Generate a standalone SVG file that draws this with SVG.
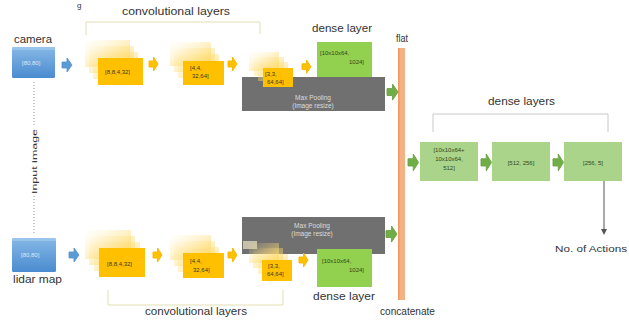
<svg xmlns="http://www.w3.org/2000/svg" xmlns:xlink="http://www.w3.org/1999/xlink" width="629" height="320" viewBox="0 0 629 320">
<defs>
<style>
.t{font-family:"Liberation Sans",Arial,sans-serif;fill:#333}
.lb{font-size:10px}
.sm{font-size:6px;fill:#3a3a2a}
.pt{font-size:6.5px;fill:#dcdcdc;text-anchor:middle}
.dt{font-size:6px;fill:#2f4a1a}
.conv{fill:#ffc000}
.ghost{fill:url(#gg)}
.pool{fill:#707070}
.dense{fill:#92d050}
.dense2{fill:#a9d48a}
.br{fill:none;stroke:#e2dfb2;stroke-width:1}
.brg{fill:none;stroke:#c8c8c8;stroke-width:1}
.blue{fill:url(#bg)}
.ya{fill:#ffc000;stroke:#f5b800;stroke-width:1;stroke-linejoin:round}
.ga{fill:#70ad47;stroke:#6aa443;stroke-width:0.8;stroke-linejoin:round}
.ba{fill:#5b9bd5;stroke:#5592cc;stroke-width:0.8;stroke-linejoin:round}
.dot{stroke:#9a9a9a;stroke-width:1;stroke-dasharray:1 2}
</style>
<linearGradient id="gg" x1="0" y1="0" x2="1" y2="1">
<stop offset="0" stop-color="#ffe699" stop-opacity="0"/>
<stop offset="1" stop-color="#ffd34d" stop-opacity="0.8"/>
</linearGradient>
<linearGradient id="bg" x1="0" y1="0" x2="0" y2="1">
<stop offset="0" stop-color="#86b8e6"/>
<stop offset="1" stop-color="#4a8bd0"/>
</linearGradient>
<path id="arr" d="M0,4 H5 V0 L10,7 L5,14 V10 H0 Z"/>
<marker id="ah" markerWidth="6" markerHeight="6" refX="3" refY="3" orient="auto" markerUnits="userSpaceOnUse">
<path d="M0,0 L6,3 L0,6 Z" fill="#555"/>
</marker>
</defs>
<rect width="629" height="320" fill="#ffffff"/>
<text class="t" x="77" y="8" font-size="8">g</text>

<!-- brackets and labels -->
<g id="top-bracket">
<path class="br" d="M86,35 V22 H260 V34"/>
<text class="t lb" x="122" y="15" textLength="108" lengthAdjust="spacingAndGlyphs">convolutional layers</text>
</g>
<g id="bottom-bracket">
<path class="br" d="M108,290 V305 H283 V290"/>
<text class="t lb" x="145" y="315" textLength="102" lengthAdjust="spacingAndGlyphs">convolutional layers</text>
</g>
<g id="dense-bracket">
<path class="brg" d="M433,132 V114 H608 V132"/>
<text class="t lb" x="488" y="105" textLength="67" lengthAdjust="spacingAndGlyphs">dense layers</text>
</g>

<!-- input nodes -->
<g id="camera">
<text class="t lb" x="14" y="43" textLength="38" lengthAdjust="spacingAndGlyphs">camera</text>
<rect class="blue" x="12" y="47" width="43" height="31" rx="1.5"/>
<rect x="12" y="47" width="43" height="3" fill="#a9cdee" opacity="0.6"/>
<text class="t sm" x="22" y="65" style="fill:#dbe9f7">[80,80]</text>
</g>
<g id="lidar">
<rect class="blue" x="12" y="238" width="44" height="34" rx="1.5"/>
<rect x="12" y="238" width="44" height="3" fill="#a9cdee" opacity="0.6"/>
<text class="t sm" x="21" y="257" style="fill:#dbe9f7">[80,80]</text>
<text class="t lb" x="13" y="283" textLength="49" lengthAdjust="spacingAndGlyphs">lidar map</text>
</g>
<g id="input-image">
<line class="dot" x1="34" y1="82" x2="34" y2="126"/>
<line class="dot" x1="34" y1="196" x2="34" y2="233"/>
<text class="t" font-size="8" transform="translate(37,194) rotate(-90)" textLength="65" lengthAdjust="spacingAndGlyphs">Input image</text>
</g>

<!-- pooling boxes -->
<g id="pool-top">
<rect class="pool" x="242" y="77" width="143" height="34"/>
<text class="t pt" x="313" y="100">Max Pooling</text>
<text class="t pt" x="313" y="108">(Image resize)</text>
</g>
<g id="pool-bottom">
<rect class="pool" x="242" y="217" width="143" height="37"/>
<text class="t pt" x="312" y="228">Max Pooling</text>
<text class="t pt" x="312" y="236">(Image resize)</text>
</g>

<!-- conv stacks top -->
<g id="conv1-top">
<rect class="ghost" x="85" y="40" width="45" height="27"/>
<rect class="ghost" x="89" y="46" width="45" height="27"/>
<rect class="ghost" x="93" y="52" width="45" height="27"/>
<rect class="conv" x="98" y="58" width="45" height="27"/>
<text class="t sm" x="105" y="74">[8,8,4,32]</text>
</g>
<g id="conv2-top">
<rect class="ghost" x="170" y="42" width="41" height="24"/>
<rect class="ghost" x="174" y="48" width="41" height="24"/>
<rect class="ghost" x="178" y="54" width="41" height="24"/>
<rect class="conv" x="183" y="61" width="41" height="24"/>
<text class="t sm" x="190" y="70">[4,4,</text>
<text class="t sm" x="192" y="78">32,64]</text>
</g>
<g id="conv3-top">
<rect class="ghost" x="249" y="52" width="30" height="19"/>
<rect class="ghost" x="254" y="57" width="30" height="19"/>
<rect class="ghost" x="258" y="62" width="30" height="19"/>
<rect class="conv" x="263" y="68" width="30" height="19"/>
<text class="t sm" x="265" y="76">[3,3,</text>
<text class="t sm" x="267" y="84">64,64]</text>
</g>
<g id="dense-top">
<text class="t lb" x="312" y="32" textLength="60" lengthAdjust="spacingAndGlyphs">dense layer</text>
<rect class="dense" x="317" y="42" width="55" height="35"/>
<text class="t dt" x="320" y="55">[10x10x64,</text>
<text class="t dt" x="364" y="64" text-anchor="end">1024]</text>
</g>

<!-- conv stacks bottom -->
<g id="conv1-bottom">
<rect class="ghost" x="85" y="230" width="46" height="29"/>
<rect class="ghost" x="89" y="236" width="46" height="29"/>
<rect class="ghost" x="94" y="242" width="46" height="29"/>
<rect class="conv" x="99" y="248" width="46" height="29"/>
<text class="t sm" x="107" y="266">[8,8,4,32]</text>
</g>
<g id="conv2-bottom">
<rect class="ghost" x="170" y="235" width="41" height="25"/>
<rect class="ghost" x="174" y="241" width="41" height="25"/>
<rect class="ghost" x="178" y="247" width="41" height="25"/>
<rect class="conv" x="183" y="253" width="41" height="25"/>
<text class="t sm" x="190" y="263">[4,4,</text>
<text class="t sm" x="193" y="272">32,64]</text>
</g>
<g id="conv3-bottom">
<rect x="243" y="241" width="14" height="8" fill="#fff4d0" opacity="0.6"/>
<rect class="ghost" x="249" y="243" width="30" height="20"/>
<rect class="ghost" x="253" y="248" width="30" height="20"/>
<rect class="ghost" x="258" y="254" width="30" height="20"/>
<rect class="conv" x="262" y="260" width="30" height="21"/>
<text class="t sm" x="268" y="268">[3,3,</text>
<text class="t sm" x="267" y="276">64,64]</text>
</g>
<g id="dense-bottom">
<rect class="dense" x="317" y="249" width="55" height="38"/>
<text class="t dt" x="322" y="263">[10x10x64,</text>
<text class="t dt" x="364" y="272" text-anchor="end">1024]</text>
<text class="t lb" x="313" y="300" textLength="62" lengthAdjust="spacingAndGlyphs">dense layer</text>
</g>

<!-- flat / concatenate -->
<g id="flat">
<text class="t lb" x="396" y="42" textLength="12" lengthAdjust="spacingAndGlyphs">flat</text>
<rect x="398" y="48" width="7" height="252" fill="#f4b183"/>
<rect x="398" y="48" width="1.5" height="252" fill="#ed9a64"/>
<text class="t lb" x="380" y="315" textLength="55" lengthAdjust="spacingAndGlyphs">concatenate</text>
</g>

<!-- right dense layers -->
<g id="dense1">
<rect class="dense2" x="420" y="142" width="58" height="39"/>
<text class="t dt" x="449" y="152" text-anchor="middle">[10x10x64+</text>
<text class="t dt" x="449" y="161" text-anchor="middle">10x10x64,</text>
<text class="t dt" x="449" y="170" text-anchor="middle">512]</text>
</g>
<g id="dense2">
<rect class="dense2" x="492" y="142" width="58" height="39"/>
<text class="t dt" x="521" y="165" text-anchor="middle">[512, 256]</text>
</g>
<g id="dense3">
<rect class="dense2" x="564" y="142" width="58" height="39"/>
<text class="t dt" x="593" y="165" text-anchor="middle">[256, 5]</text>
</g>
<g id="actions">
<text class="t" font-size="9" x="555" y="252" textLength="72" lengthAdjust="spacingAndGlyphs">No. of Actions</text>
</g>

<!-- connectors -->
<g id="connectors">
<use href="#arr" class="ba" transform="translate(62,58)"/>
<use href="#arr" class="ba" transform="translate(69,248)"/>
<use href="#arr" class="ya" transform="translate(149,57) scale(0.9,1)"/>
<use href="#arr" class="ya" transform="translate(228,57) scale(0.9,1)"/>
<use href="#arr" class="ya" transform="translate(302,60) scale(0.9,0.95)"/>
<use href="#arr" class="ya" transform="translate(153,248) scale(0.9,1)"/>
<use href="#arr" class="ya" transform="translate(228,248) scale(0.9,1)"/>
<use href="#arr" class="ya" transform="translate(299,253) scale(0.9,1)"/>
<use href="#arr" class="ga" transform="translate(387,84) scale(1.1,1.15)"/>
<use href="#arr" class="ga" transform="translate(386,226) scale(1.1,1.15)"/>
<use href="#arr" class="ga" transform="translate(408,154) scale(1.05,1.2)"/>
<use href="#arr" class="ga" transform="translate(481,154) scale(1.05,1.2)"/>
<use href="#arr" class="ga" transform="translate(553,154) scale(1.05,1.2)"/>
<line x1="604" y1="181" x2="604" y2="232" stroke="#555" stroke-width="1" marker-end="url(#ah)"/>
</g>
</svg>
